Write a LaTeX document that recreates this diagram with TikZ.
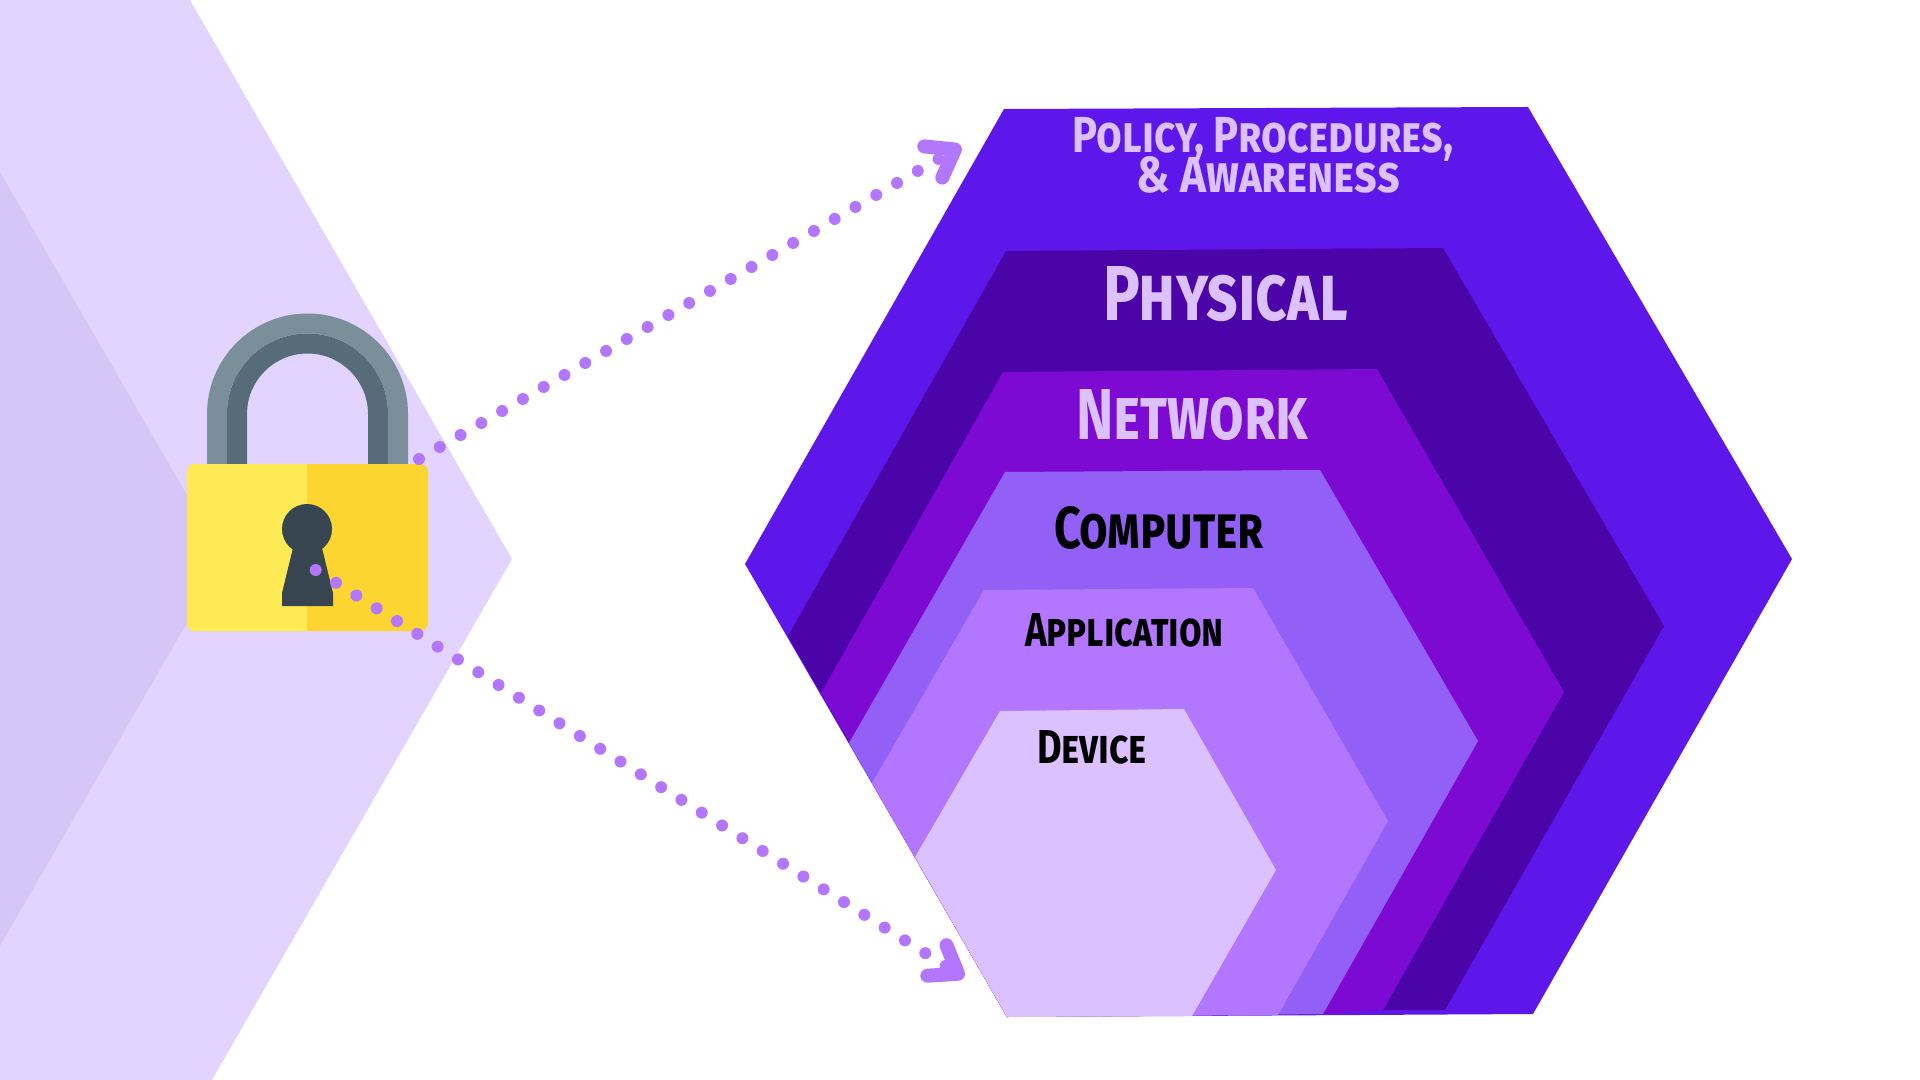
\documentclass[tikz,border=0pt]{standalone}
\usepackage{graphicx}
\usepackage{fontspec}
\usetikzlibrary{arrows.meta}
\newfontfamily\layerfont[Letters=SmallCaps]{Fira Sans}
\newcommand{\laytext}[3]{\resizebox{#1}{#2}{\setbox0=\hbox{\layerfont\bfseries #3}\dp0=0pt \box0}}
\newcommand{\twolines}[2]{\vbox{\baselineskip=8.07pt\lineskiplimit=-\maxdimen\halign{\hfil##\hfil\cr #1\cr #2\cr}}}
\definecolor{layerA}{HTML}{5E17EB}
\definecolor{layerB}{HTML}{4A04A8}
\definecolor{layerC}{HTML}{7C0AD2}
\definecolor{layerD}{HTML}{9360F7}
\definecolor{layerE}{HTML}{B376FF}
\definecolor{layerF}{HTML}{DBC1FF}
\definecolor{backA}{HTML}{E3D4FF}
\definecolor{backB}{HTML}{D6C6F8}
\definecolor{lockL}{HTML}{FEEA55}
\definecolor{lockR}{HTML}{FCD530}
\definecolor{hookA}{HTML}{7A8F9A}
\definecolor{hookB}{HTML}{566C78}
\definecolor{hole}{HTML}{36454F}
\tikzset{
  lab/.style = {anchor=base west, inner sep=0pt, outer sep=0pt},
  pale/.style = {lab, text=layerF},
  dark/.style = {lab, text=black},
  dotline/.style = {draw=layerE, line width=6pt, line cap=round,
    dash pattern=on 0pt off 12pt,
    -{Straight Barb[length=12.5pt,width=18pt,line width=7pt,round]}}
}
\begin{document}
\begin{tikzpicture}[x=0.5pt,y=-0.5pt]
  \useasboundingbox (0,0) rectangle (1920,1080);
  % background
  \fill[backA] (0,0) -- (190,0) -- (512,559) -- (212,1080) -- (0,1080) -- cycle;
  \fill[backB] (0,172) -- (224,559) -- (0,946) -- cycle;
  % layers
  \fill[layerA] (1004,109) -- (1528,107) -- (1792,559) -- (1533,1014) -- (1007,1017) -- (745,564) -- cycle;
  \fill[layerB] (1006,251) -- (1443,248) -- (1664,626) -- (1445,1010) -- (1300,1010) -- (1007,1017) -- (788,636) -- cycle;
  \fill[layerC] (1003,372) -- (1377,369) -- (1564,692) -- (1383,1010) -- (1323,1014) -- (1007,1017) -- (821,693) -- cycle;
  \fill[layerD] (1005,472) -- (1320,470) -- (1478,741) -- (1323,1014) -- (1007,1017) -- (849,743) -- cycle;
  \fill[layerE] (984,590) -- (1253,588) -- (1388,821) -- (1278,1015) -- (1007,1017) -- (872,783) -- cycle;
  \fill[layerF] (1000,711) -- (1184,709) -- (1276,870) -- (1192,1016) -- (1007,1017) -- (915,857) -- cycle;
  % labels
  \node[pale] (policy) at (1072,193) {\laytext{190.5pt}{38pt}{\twolines{Policy, Procedures,}{\kern2.7pt\scalebox{1.05}[1]{\& Awareness}}}};
  \node[pale] (physical) at (1103,320.5) {\laytext{122.5pt}{27pt}{Physical}};
  \node[pale] (network) at (1076,439) {\laytext{116pt}{25pt}{Network}};
  \node[dark] (computer) at (1054,548) {\laytext{105pt}{21pt}{Computer}};
  \node[dark] (application) at (1025,646) {\laytext{99.5pt}{16.5pt}{Application}};
  \node[dark] (device) at (1037,763) {\laytext{55pt}{16.5pt}{Device}};
  % lock
  \fill[hookA] (207,466) -- (207,414) arc (180:360:100.5) -- (408,466) -- cycle;
  \fill[backA] (227,466) -- (227,414) arc (180:360:80.5) -- (388,466) -- cycle;
  \fill[hookB] (227,466) -- (227,414) arc (180:360:80.5) -- (388,466) -- (368,466) -- (368,414) arc (360:180:60.5) -- (247,466) -- cycle;
  \fill[lockR, rounded corners=4pt] (187,464) rectangle (428,631);
  \fill[lockL] (307,464) -- (307,631) [rounded corners=4pt] -- (187,631) -- (187,464) [sharp corners] -- cycle;
  \fill[hole] (307,529) circle (25);
  \fill[hole] (293,548) -- (322,548) -- (333,593) -- (333,606) -- (282,606) -- (282,593) -- cycle;
  % arrows
  \coordinate (upstart) at (419,459);
  \coordinate (upend) at (961,146);
  \coordinate (downstart) at (315.7,570);
  \coordinate (downend) at (964,977.5);
  \draw[dotline] (upstart) -- (upend);
  \draw[dotline] (downstart) -- (downend);
\end{tikzpicture}
\end{document}
